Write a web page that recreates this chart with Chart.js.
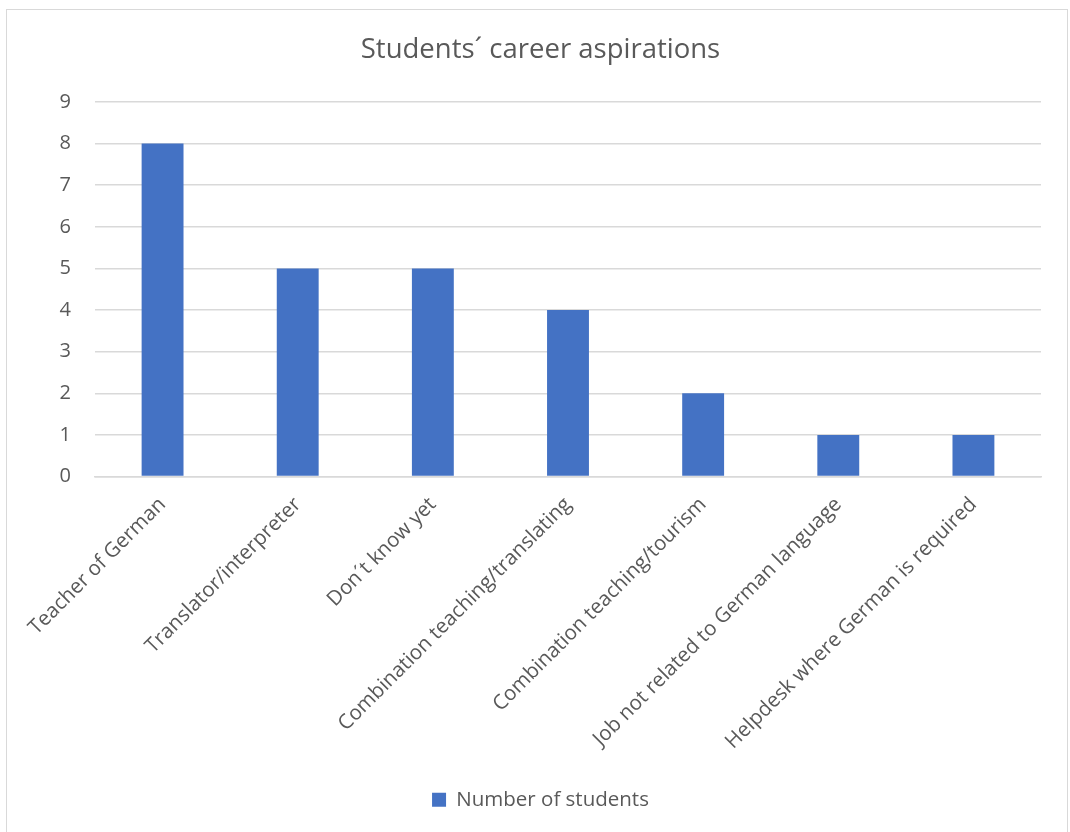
<!DOCTYPE html>
<html>
<head>
<meta charset="utf-8">
<title>Students´ career aspirations</title>
<script src="https://cdn.jsdelivr.net/npm/chart.js@4/dist/chart.umd.min.js"></script>
<style>
  html, body { margin: 0; padding: 0; background: #fff; overflow: hidden; }
  #frame {
    position: absolute; left: 6px; top: 9px;
    width: 1062px; height: 840px;
    border: 1px solid #d9d9d9; box-sizing: border-box;
  }
  #wrap { position: absolute; left: 0; top: 0; width: 1070px; height: 832px; }
</style>
</head>
<body>
<div id="frame"></div>
<div id="wrap"><canvas id="careers"></canvas></div>
<script>
"use strict";

// categories and counts
var careers = [
    'Teacher of German',
    'Translator/interpreter',
    'Don´t know yet',
    'Combination teaching/translating',
    'Combination teaching/tourism',
    'Job not related to German language',
    'Helpdesk where German is required'
];
var students = [8, 5, 5, 4, 2, 1, 1];
var yTicks = [0, 1, 2, 3, 4, 5, 6, 7, 8, 9];

var TEXT = '#595959';
var FONT = '"Open Sans", "Noto Sans", sans-serif';

Chart.defaults.font.family = FONT;
Chart.defaults.color = TEXT;

var ctx = document.getElementById('careers').getContext('2d');

new Chart(ctx, {
    type: 'bar',
    data: {
        labels: careers,
        datasets: [{
            label: 'Number of students',
            data: students,
            backgroundColor: '#4472C4',
            borderWidth: 0,
            barPercentage: 0.31,
            categoryPercentage: 1
        }]
    },
    options: {
        responsive: true,
        maintainAspectRatio: false,
        animation: false,
        layout: {
            padding: { left: 40, right: 29, top: 0, bottom: 12 }
        },
        plugins: {
            title: {
                display: true,
                text: 'Students´ career aspirations',
                color: TEXT,
                font: { size: 27.5, weight: 'normal' },
                padding: { top: 34, bottom: 35 }
            },
            legend: {
                position: 'bottom',
                labels: {
                    color: TEXT,
                    font: { size: 20.5 },
                    boxWidth: 14,
                    boxHeight: 14,
                    padding: 10
                }
            },
            tooltip: { enabled: false }
        },
        scales: {
            x: {
                grid: { display: false, drawTicks: false },
                border: { color: '#d9d9d9', width: 1.5 },
                ticks: {
                    color: TEXT,
                    font: { size: 20.5 },
                    maxRotation: 45,
                    minRotation: 45,
                    autoSkip: false,
                    padding: 16
                },
                afterFit: function (scale) { scale.height = 303; }
            },
            y: {
                min: 0,
                max: 9,
                afterBuildTicks: function (scale) {
                    scale.ticks = yTicks.map(function (v) { return { value: v }; });
                },
                grid: { color: '#d9d9d9', lineWidth: 1.5, drawTicks: false },
                border: { display: false },
                ticks: {
                    color: TEXT,
                    font: { size: 20 },
                    padding: 24
                },
                afterFit: function (scale) { scale.width = 55; }
            }
        }
    }
});
</script>
</body>
</html>
